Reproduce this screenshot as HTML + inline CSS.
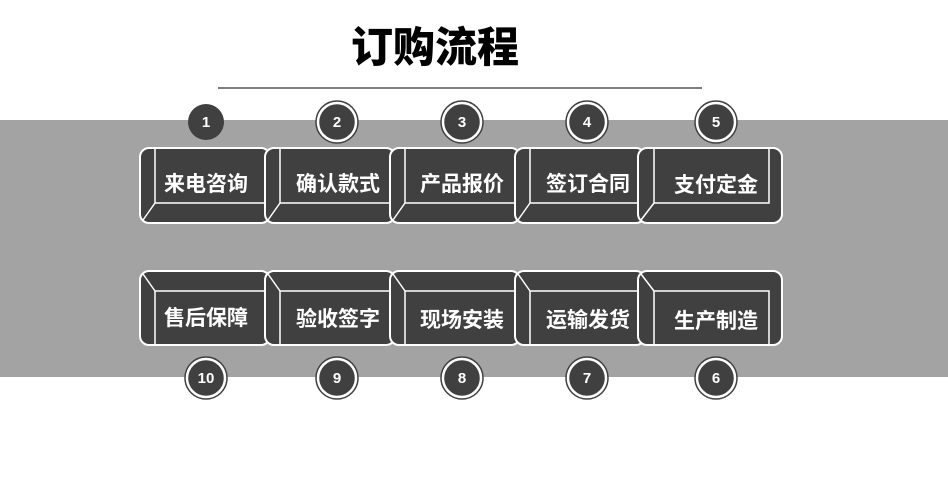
<!DOCTYPE html>
<html><head><meta charset="utf-8"><style>
body{margin:0;background:#fff;}
svg{display:block;}
text{font-family:"Liberation Sans","Noto Sans CJK SC",sans-serif;font-weight:bold;}
</style></head><body>
<svg width="948" height="480" viewBox="0 0 948 480" xmlns="http://www.w3.org/2000/svg">
<rect x="0" y="0" width="948" height="480" fill="#fff"/>
<text x="435" y="62" font-size="42" text-anchor="middle" fill="#000" style="font-weight:900">订购流程</text>
<line x1="218" y1="88" x2="702" y2="88" stroke="#555" stroke-width="1.5"/>
<rect x="0" y="120" width="948" height="257" fill="#a3a3a3"/>
<g stroke="#fff" stroke-width="2" fill="#404040">
<g>
<rect x="140" y="148" width="130" height="75" rx="9"/>
<path d="M155 149 V203 H270 M155 203 L143 220" fill="none" stroke-width="1.5"/>
</g>
<g>
<rect x="265" y="148" width="130" height="75" rx="9"/>
<path d="M280 149 V203 H395 M280 203 L268 220" fill="none" stroke-width="1.5"/>
</g>
<g>
<rect x="390" y="148" width="130" height="75" rx="9"/>
<path d="M405 149 V203 H520 M405 203 L393 220" fill="none" stroke-width="1.5"/>
</g>
<g>
<rect x="515" y="148" width="130" height="75" rx="9"/>
<path d="M530 149 V203 H645 M530 203 L518 220" fill="none" stroke-width="1.5"/>
</g>
<g>
<rect x="638" y="148" width="144" height="75" rx="9"/>
<path d="M654 149 V203 H769 V149 M654 203 L641 220" fill="none" stroke-width="1.5"/>
</g>
<g>
<rect x="140" y="271" width="130" height="74" rx="9"/>
<path d="M155 344 V291 H270 M155 291 L143 274" fill="none" stroke-width="1.5"/>
</g>
<g>
<rect x="265" y="271" width="130" height="74" rx="9"/>
<path d="M280 344 V291 H395 M280 291 L268 274" fill="none" stroke-width="1.5"/>
</g>
<g>
<rect x="390" y="271" width="130" height="74" rx="9"/>
<path d="M405 344 V291 H520 M405 291 L393 274" fill="none" stroke-width="1.5"/>
</g>
<g>
<rect x="515" y="271" width="130" height="74" rx="9"/>
<path d="M530 344 V291 H645 M530 291 L518 274" fill="none" stroke-width="1.5"/>
</g>
<g>
<rect x="638" y="271" width="144" height="74" rx="9"/>
<path d="M654 344 V291 H769 V344 M654 291 L641 274" fill="none" stroke-width="1.5"/>
</g>
</g>
<g font-size="21" fill="#fff" text-anchor="middle" style="font-weight:900">
<text x="206" y="191">来电咨询</text>
<text x="338" y="191">确认款式</text>
<text x="462" y="191">产品报价</text>
<text x="588" y="191">签订合同</text>
<text x="716" y="192">支付定金</text>
<text x="206" y="325">售后保障</text>
<text x="338" y="326">验收签字</text>
<text x="462" y="327">现场安装</text>
<text x="588" y="327">运输发货</text>
<text x="716" y="328">生产制造</text>
</g>
<g>
<circle cx="206" cy="122" r="18" fill="#404040"/>
<g fill="#404040" stroke="#404040" stroke-width="1.5">
<circle cx="337" cy="122" r="21" fill="#fff"/><circle cx="337" cy="122" r="17"/>
<circle cx="462" cy="122" r="21" fill="#fff"/><circle cx="462" cy="122" r="17"/>
<circle cx="587" cy="122" r="21" fill="#fff"/><circle cx="587" cy="122" r="17"/>
<circle cx="716" cy="122" r="21" fill="#fff"/><circle cx="716" cy="122" r="17"/>
<circle cx="206" cy="378" r="21" fill="#fff"/><circle cx="206" cy="378" r="17"/>
<circle cx="337" cy="378" r="21" fill="#fff"/><circle cx="337" cy="378" r="17"/>
<circle cx="462" cy="378" r="21" fill="#fff"/><circle cx="462" cy="378" r="17"/>
<circle cx="587" cy="378" r="21" fill="#fff"/><circle cx="587" cy="378" r="17"/>
<circle cx="716" cy="378" r="21" fill="#fff"/><circle cx="716" cy="378" r="17"/>
</g>
</g>
<g font-size="15" fill="#fff" text-anchor="middle">
<text x="206" y="127">1</text>
<text x="337" y="127">2</text>
<text x="462" y="127">3</text>
<text x="587" y="127">4</text>
<text x="716" y="127">5</text>
<text x="206" y="383">10</text>
<text x="337" y="383">9</text>
<text x="462" y="383">8</text>
<text x="587" y="383">7</text>
<text x="716" y="383">6</text>
</g>
</svg>
</body></html>
